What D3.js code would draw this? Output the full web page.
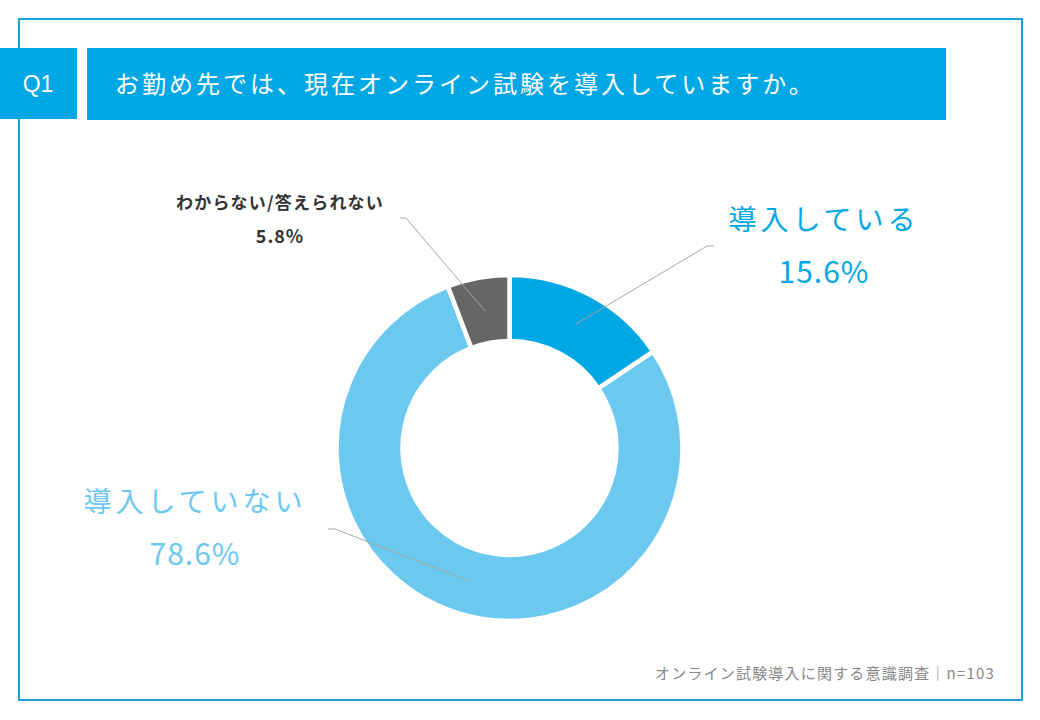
<!DOCTYPE html>
<html>
<head>
<meta charset="utf-8">
<script src="https://cdn.jsdelivr.net/npm/d3@7"></script>
<style>
  body { margin: 0; background: #fff; }
  text { font-family: "Noto Sans CJK JP", "Noto Sans", sans-serif; }
</style>
</head>
<body>
<div id="container"></div>
<script>
/* CONSTANTS AND GLOBALS */
const width = 1040,
  height = 720,
  outerR = 173,
  innerR = 107,
  cx = 509.5,
  cy = 448;

// data
const categories = ["導入している", "導入していない", "わからない/答えられない"];
const values = [15.6, 78.6, 5.8];
const colors = ["#00a7e5", "#6bc8ef", "#666666"];
const question = "お勤め先では、現在オンライン試験を導入していますか。";
const source = "オンライン試験導入に関する意識調査｜n=103";

// label placement (text position + leader line ends, per slice)
const labelPos = [
  { x: 824, y: 230, size: 28, pct: 30, spacing: 4, weight: 400, fill: "#00a7e5", gap: 53, line: [[576, 324], [707, 246], [714, 246]] },
  { x: 195, y: 512, size: 28, pct: 30, spacing: 4, weight: 400, fill: "#6bc8ef", gap: 53, line: [[467, 580], [335, 529], [328, 529]] },
  { x: 280, y: 209, size: 17, pct: 18, spacing: 1.2, weight: 700, fill: "#333333", gap: 34, line: [[485, 311], [406, 218], [400, 218]] }
];

const svg = d3.select("#container")
  .append("svg")
  .attr("width", width)
  .attr("height", height);

// frame
svg.append("rect")
  .attr("x", 19).attr("y", 19)
  .attr("width", 1003).attr("height", 681)
  .attr("fill", "none")
  .attr("stroke", "#1ba1d8")
  .attr("stroke-width", 2);

// header boxes
svg.append("rect")
  .attr("x", 0).attr("y", 48)
  .attr("width", 77).attr("height", 71)
  .attr("fill", "#00a7e5");
svg.append("text")
  .attr("x", 38).attr("y", 92)
  .attr("text-anchor", "middle")
  .attr("fill", "#fff")
  .style("font-family", "'Liberation Sans', Arial, sans-serif")
  .style("font-size", "23px")
  .text("Q1");

svg.append("rect")
  .attr("x", 87).attr("y", 48)
  .attr("width", 859).attr("height", 72)
  .attr("fill", "#00a7e5");
svg.append("text")
  .attr("x", 115).attr("y", 93)
  .attr("fill", "#fff")
  .style("font-size", "24px")
  .style("letter-spacing", "3px")
  .text(question);

// donut
const pie = d3.pie().sort(null).value(d => d)
  .startAngle(0).endAngle(2 * Math.PI);
const arc = d3.arc().innerRadius(innerR).outerRadius(outerR);

svg.append("g")
  .attr("transform", `translate(${cx}, ${cy})`)
  .selectAll("path")
  .data(pie(values))
  .join("path")
  .attr("d", arc)
  .attr("fill", (d, i) => colors[i])
  .attr("stroke", "#fff")
  .attr("stroke-width", 4.5);

// leader lines
svg.selectAll(".leader")
  .data(labelPos)
  .join("polyline")
  .attr("class", "leader")
  .attr("points", d => d.line.map(p => p.join(",")).join(" "))
  .attr("fill", "none")
  .attr("stroke", "#a6a6a6")
  .attr("stroke-width", 1);

// labels
const lbl = svg.selectAll(".lbl")
  .data(labelPos)
  .join("g")
  .attr("class", "lbl");

lbl.append("text")
  .attr("x", d => d.x).attr("y", d => d.y)
  .attr("text-anchor", "middle")
  .attr("fill", d => d.fill)
  .style("font-size", d => d.size + "px")
  .style("font-weight", d => d.weight)
  .style("letter-spacing", d => d.spacing + "px")
  .text((d, i) => categories[i]);

lbl.append("text")
  .attr("x", d => d.x).attr("y", d => d.y + d.gap)
  .attr("text-anchor", "middle")
  .attr("fill", d => d.fill)
  .style("font-size", d => d.pct + "px")
  .style("font-weight", d => d.weight)
  .style("letter-spacing", "1px")
  .text((d, i) => values[i].toFixed(1) + "%");

// footer
svg.append("text")
  .attr("x", 995).attr("y", 679)
  .attr("text-anchor", "end")
  .attr("fill", "#888")
  .style("font-size", "15px")
  .style("letter-spacing", "1.2px")
  .text(source);
</script>
</body>
</html>
